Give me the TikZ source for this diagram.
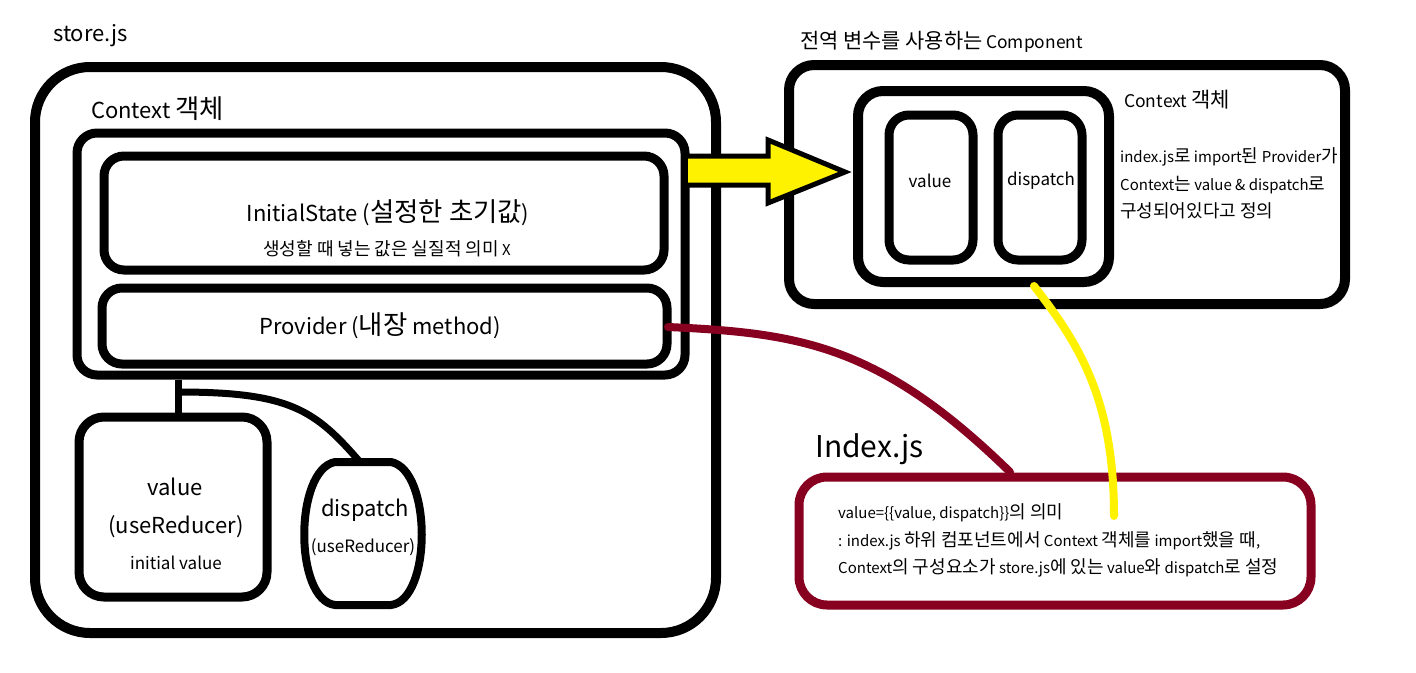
\documentclass[tikz,border=0pt]{standalone}
\usepackage{fontspec}
\setmainfont{Noto Sans CJK KR}
\newfontfamily\krfont{Noto Sans CJK KR}[Scale=1.2]
\newcommand\kor[1]{{\krfont #1}}
\definecolor{maroon}{HTML}{880020}
\definecolor{yel}{HTML}{FFF200}
\tikzset{
  fs/.style={font=\fontsize{#1}{#1}\selectfont},
  bbox/.style={draw=black, line width=9pt, rounded corners=#1, fill=white},
  txt/.style={inner sep=0pt, anchor=base west},
}
\begin{document}
\begin{tikzpicture}[x=1pt,y=-1pt]
\useasboundingbox (0,0) rectangle (1416,672);
% store.js
\node[txt, fs=22] (storelbl) at (53,41) {store.js};
\draw[line width=10pt, rounded corners=55pt] (35,67) rectangle (716,633);
\node[txt, fs=22] (ctxlbl) at (91,118) {Context \kor{객체}};
\node[bbox=20pt, minimum width=608pt, minimum height=242pt] (ctx) at (381,254) {};
\node[bbox=20pt, minimum width=560pt, minimum height=114pt] (init) at (384,213) {};
\node[fs=22, inner sep=0pt] (inittxt) at (388,213) {InitialState (\kor{설정한 초기값})};
\node[fs=15, inner sep=0pt] (initsub) at (387,249) {\kor{생성할 때 넣는 값은 실질적 의미} X};
\node[bbox=20pt, minimum width=565pt, minimum height=76pt] (prov) at (384.5,326) {};
\node[fs=22, inner sep=0pt] (provtxt) at (380,326) {Provider (\kor{내장} method)};
% value
\node[bbox=25pt, minimum width=188pt, minimum height=180pt] (val) at (173,507) {};
\node[fs=22, inner sep=0pt] (v1) at (175,487) {value};
\node[fs=22, inner sep=0pt] (v2) at (176,527) {(useReducer)};
\node[fs=17, inner sep=0pt] (v3) at (176,563) {initial value};
% dispatch barrel
\draw[line width=8pt, fill=white] (335,462) -- (391,462) .. controls (432,470) and (432,600) .. (391,605) -- (335,605) .. controls (294,600) and (294,470) .. (335,462) -- cycle;
\coordinate (disptop) at (360,462);
\node[fs=22, inner sep=0pt] (d1) at (365,510) {dispatch};
\node[fs=17, inner sep=0pt] (d2) at (363,547) {(useReducer)};
% connectors
\coordinate (stem) at (178,392);
\draw[line width=7pt] (stem |- ctx.south) -- (stem |- val.north);
\draw[line width=7pt] (stem) .. controls (290,392) and (315,410) .. (disptop);
% right component
\node[txt, fs=17.4] (complbl) at (800,48) {\kor{전역 변수를 사용하는} Component};
\node[bbox=25pt, line width=10pt, minimum width=556pt, minimum height=239pt] (comp) at (1067,184.5) {};
\node[bbox=25pt, line width=10pt, minimum width=251pt, minimum height=191pt] (rctx) at (983.5,186.5) {};
\node[bbox=20pt, minimum width=84pt, minimum height=145pt] (rval) at (931,187.5) {};
\node[bbox=20pt, minimum width=84pt, minimum height=145pt] (rdisp) at (1040,187.5) {};
\node[fs=17, inner sep=0pt] (rvt) at (930,181) {value};
\node[fs=17, inner sep=0pt] (rdt) at (1041,181) {dispatch};
\node[txt, fs=17.5] (rctxlbl) at (1124,107) {Context \kor{객체}};
\node[txt, fs=15] (r1) at (1120,162) {index.js\kor{로} import\kor{된} Provider\kor{가}};
\node[txt, fs=15] (r2) at (1120,190) {Context\kor{는} value \& dispatch\kor{로}};
\node[txt, fs=15] (r3) at (1120,217) {\kor{구성되어있다고 정의}};
% yellow arrow
\draw[line width=5pt, fill=yel, line join=miter] (688,156) -- (768,156) -- (768,140) -- (845,172) -- (768,203) -- (768,185) -- (688,185);
% index.js
\node[txt, fs=30] (idxlbl) at (815,457) {Index.js};
\node[bbox=28pt, draw=maroon, minimum width=512pt, minimum height=128pt] (idx) at (1055,541) {};
\node[txt, fs=15] (i1) at (838,518) {value=\{\{value, dispatch\}\}\kor{의 의미}};
\node[txt, fs=15] (i2) at (838,546) {: index.js \kor{하위 컴포넌트에서} Context \kor{객체를} import\kor{했을 때},};
\node[txt, fs=15] (i3) at (838,573) {Context\kor{의 구성요소가} store.js\kor{에 있는} value\kor{와} dispatch\kor{로 설정}};
% maroon curve
\coordinate (idxtop) at (1010,472);
\coordinate (provend) at (668,327);
\draw[maroon, line width=8pt, line cap=round] (provend) .. controls (800,333) and (880,345) .. (idxtop);
% yellow curve
\coordinate (ystart) at (1034,286);
\coordinate (yend) at (1114,516);
\draw[yel, line width=8pt, line cap=round] (ystart) .. controls (1080,345) and (1114,400) .. (yend);
\end{tikzpicture}
\end{document}
